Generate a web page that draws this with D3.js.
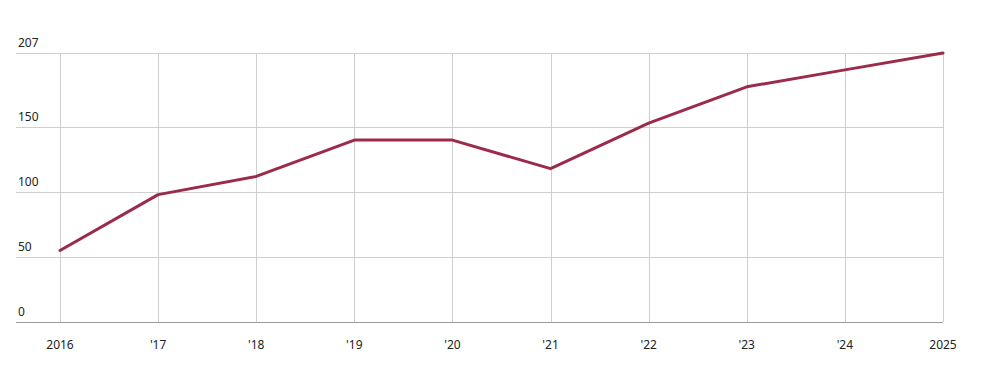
<!DOCTYPE html>
<html>
<head>
<meta charset="utf-8">
<script src="https://cdn.jsdelivr.net/npm/d3@7"></script>
<style>
  body { margin: 0; background: #fff; }
  svg text { font-family: "Segoe UI", "Noto Sans", "Open Sans", sans-serif; font-size: 12px; fill: #222; }
</style>
</head>
<body>
<div class="chart"></div>
<script>
const years = [2016, 2017, 2018, 2019, 2020, 2021, 2022, 2023, 2024, 2025];
const yearLabels = ["2016", "'17", "'18", "'19", "'20", "'21", "'22", "'23", "'24", "2025"];
const values = [55, 98, 112, 140, 140, 118, 153, 181, 194, 207];
const yTicks = [0, 50, 100, 150, 207];

const width = 984,
  height = 385;
const marginLeft = 16,
  marginTop = 53,
  marginBottom = 63;

const xScale = d3.scaleLinear().domain([2016, 2025]).range([60, 943]);
const yScale = d3
  .scaleLinear()
  .domain([0, 207])
  .range([height - marginBottom, marginTop]);

const svg = d3
  .select(".chart")
  .append("svg")
  .attr("width", width)
  .attr("height", height);

// horizontal grid lines + y labels
const yGrid = svg.append("g").attr("class", "y-grid");
yGrid
  .selectAll("line")
  .data(yTicks.filter((d) => d > 0))
  .enter()
  .append("line")
  .attr("x1", marginLeft)
  .attr("x2", xScale(2025))
  .attr("y1", (d) => Math.round(yScale(d)) + 0.5)
  .attr("y2", (d) => Math.round(yScale(d)) + 0.5)
  .attr("stroke", "#cfcfcf")
  .attr("stroke-width", 1);

yGrid
  .selectAll("text")
  .data(yTicks)
  .enter()
  .append("text")
  .attr("x", 18)
  .attr("y", (d) => yScale(d) - 6)
  .text((d) => d);

// vertical grid lines
svg
  .append("g")
  .attr("class", "x-grid")
  .selectAll("line")
  .data(years)
  .enter()
  .append("line")
  .attr("x1", (d) => Math.round(xScale(d)) + 0.5)
  .attr("x2", (d) => Math.round(xScale(d)) + 0.5)
  .attr("y1", yScale(207))
  .attr("y2", yScale(0))
  .attr("stroke", "#cfcfcf")
  .attr("stroke-width", 1);

// x axis baseline
svg
  .append("line")
  .attr("x1", marginLeft)
  .attr("x2", xScale(2025))
  .attr("y1", Math.round(yScale(0)) + 0.5)
  .attr("y2", Math.round(yScale(0)) + 0.5)
  .attr("stroke", "#9a9a9a");

// x labels
svg
  .append("g")
  .attr("class", "x-labels")
  .selectAll("text")
  .data(years)
  .enter()
  .append("text")
  .attr("x", (d) => xScale(d))
  .attr("y", yScale(0) + 27)
  .attr("text-anchor", "middle")
  .text((d, i) => yearLabels[i]);

// line
const line = d3
  .line()
  .x((d, i) => xScale(years[i]))
  .y((d) => yScale(d));

svg
  .append("path")
  .datum(values)
  .attr("d", line)
  .attr("fill", "none")
  .attr("stroke", "#9c2a4b")
  .attr("stroke-width", 3)
  .attr("stroke-linejoin", "round")
  .attr("stroke-linecap", "round");
</script>
</body>
</html>
